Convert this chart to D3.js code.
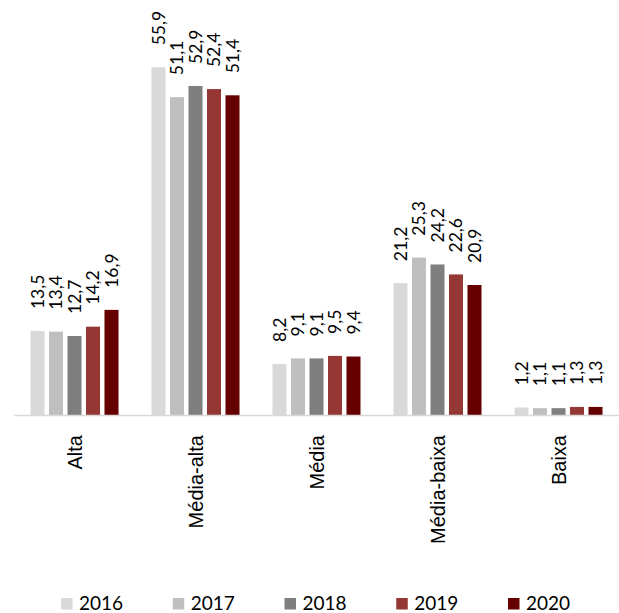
<!DOCTYPE html>
<html>
<head>
<meta charset="utf-8">
<script src="https://cdn.jsdelivr.net/npm/d3@7"></script>
<style>
  body { margin: 0; background: #fff; }
  svg { display: block; }
</style>
</head>
<body>
<svg id="chart"></svg>
<script>
// categories and series
var categories = ["Alta", "Média-alta", "Média", "Média-baixa", "Baixa"];
var years = ["2016", "2017", "2018", "2019", "2020"];
var colors = ["#d9d9d9", "#bfbfbf", "#7f7f7f", "#953735", "#660000"];
var values2016 = [13.5, 55.9, 8.2, 21.2, 1.2];
var values2017 = [13.4, 51.1, 9.1, 25.3, 1.1];
var values2018 = [12.7, 52.9, 9.1, 24.2, 1.1];
var values2019 = [14.2, 52.4, 9.5, 22.6, 1.3];
var values2020 = [16.9, 51.4, 9.4, 20.9, 1.3];
var series = [values2016, values2017, values2018, values2019, values2020];

var width = 619, height = 613;
var baseline = 415;

var svg = d3.select("#chart")
    .attr("width", width)
    .attr("height", height);

// scales
var x0 = d3.scaleBand().domain(categories).range([14, 619]);
var x1 = d3.scaleBand().domain(years)
    .range([16.5, x0.bandwidth() - 16.5])
    .paddingInner(0.243);
var y = d3.scaleLinear().domain([0, 60]).range([baseline, baseline - 60 * 6.22]);
var color = d3.scaleOrdinal().domain(years).range(colors);
var fmt = function(v){ return d3.format(".1f")(v).replace(".", ","); };

// flatten into rows
var rows = [];
categories.forEach(function(c, i){
    years.forEach(function(yr, j){
        rows.push({cat: c, year: yr, value: series[j][i]});
    });
});

// bars
svg.append("g").selectAll("rect")
    .data(rows)
    .enter().append("rect")
    .attr("x", function(d){ return x0(d.cat) + x1(d.year); })
    .attr("y", function(d){ return y(d.value); })
    .attr("width", x1.bandwidth())
    .attr("height", function(d){ return baseline - y(d.value); })
    .attr("fill", function(d){ return color(d.year); });

// value labels
svg.append("g").selectAll("text")
    .data(rows)
    .enter().append("text")
    .attr("transform", function(d){
        var cx = x0(d.cat) + x1(d.year) + x1.bandwidth() / 2;
        return "translate(" + cx + "," + (y(d.value) - 22) + ") rotate(-90)";
    })
    .attr("dy", "0.36em")
    .attr("text-anchor", "start")
    .style("font-family", "Lato, 'Open Sans', sans-serif")
    .style("font-size", "17.5px")
    .attr("fill", "#000")
    .text(function(d){ return fmt(d.value); });

// axis line
svg.append("line")
    .attr("x1", x0.range()[0])
    .attr("x2", x0.range()[1])
    .attr("y1", baseline + 0.5)
    .attr("y2", baseline + 0.5)
    .attr("stroke", "#d9d9d9")
    .attr("stroke-width", 1.5);

// category labels
svg.append("g").selectAll("text")
    .data(categories)
    .enter().append("text")
    .attr("transform", function(d){
        return "translate(" + (x0(d) + x0.bandwidth() / 2) + "," + 435 + ") rotate(-90)";
    })
    .attr("dy", "0.36em")
    .attr("text-anchor", "end")
    .style("font-family", "'Liberation Sans', Arial, sans-serif")
    .style("font-size", "20px")
    .attr("fill", "#000")
    .text(function(d){ return d; });

// legend
var legendX = d3.scalePoint().domain(years).range([61, 508]);
var legend = svg.append("g").selectAll("g")
    .data(years)
    .enter().append("g")
    .attr("transform", function(d){ return "translate(" + legendX(d) + ",598)"; });

legend.append("rect")
    .attr("width", 11.5)
    .attr("height", 11.5)
    .attr("fill", function(d){ return color(d); });

legend.append("text")
    .attr("x", 18)
    .attr("y", 12)
    .style("font-family", "Lato, 'Open Sans', sans-serif")
    .style("font-size", "19px")
    .attr("fill", "#000")
    .text(function(d){ return d; });
</script>
</body>
</html>
